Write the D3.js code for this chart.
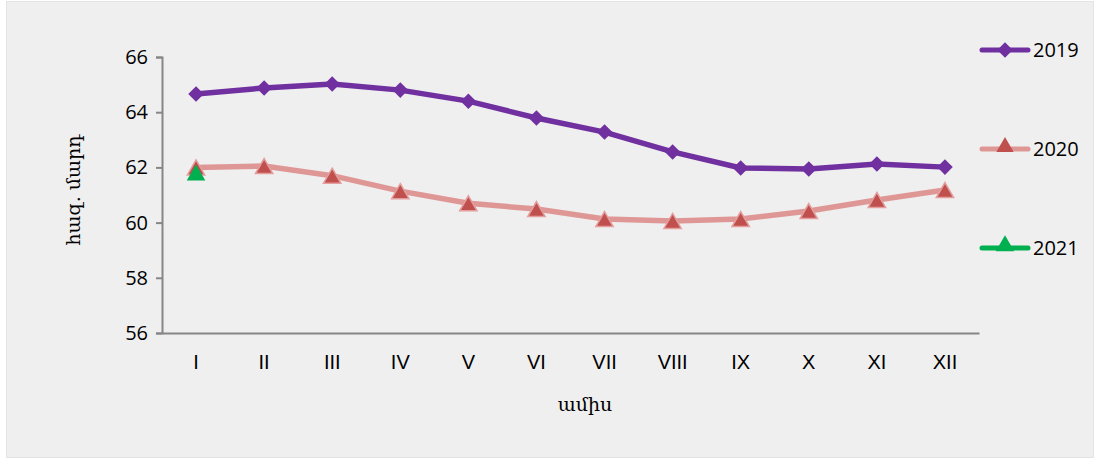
<!DOCTYPE html>
<html>
<head>
<meta charset="utf-8">
<script src="https://cdn.jsdelivr.net/npm/d3@7"></script>
<style>
body { margin: 0; background: #fff; }
</style>
</head>
<body>
<div id="chart"></div>
<script>
var width = 1098, height = 459;

// data
var months = ['I', 'II', 'III', 'IV', 'V', 'VI', 'VII', 'VIII', 'IX', 'X', 'XI', 'XII'];
var y2019 = [64.66, 64.88, 65.02, 64.8, 64.4, 63.79, 63.28, 62.56, 61.98, 61.94, 62.12, 62.01];
var y2020 = [62.0, 62.05, 61.7, 61.14, 60.7, 60.49, 60.13, 60.06, 60.13, 60.42, 60.82, 61.18];
var y2021 = [61.81];
var yTicks = [56, 58, 60, 62, 64, 66];

var svg = d3.select('#chart').append('svg')
    .attr('width', width)
    .attr('height', height);

svg.append('rect')
    .attr('x', 6.5).attr('y', 1.5)
    .attr('width', 1087).attr('height', 456)
    .attr('fill', '#efefef')
    .attr('stroke', '#e4e4e4');

var x = d3.scaleBand().domain(months).range([162, 979]);
var y = d3.scaleLinear().domain([56, 66]).range([333, 57]);
var cx = function(d, i){ return x(months[i]) + x.bandwidth() / 2 };

// y axis
var yAxis = svg.append('g')
    .attr('transform', 'translate(162,0)')
    .call(d3.axisLeft(y).tickValues(yTicks).tickSize(6).tickPadding(8));
yAxis.select('.domain').attr('stroke', '#868686').attr('stroke-width', 2);
yAxis.selectAll('.tick line').attr('stroke', '#868686').attr('stroke-width', 2);
yAxis.selectAll('text')
    .attr('font-family', 'Open Sans, sans-serif')
    .attr('font-size', 20).attr('fill', '#000');

// x axis
var xAxis = svg.append('g')
    .attr('transform', 'translate(0,333)')
    .call(d3.axisBottom(x).tickSize(0).tickPadding(22));
xAxis.select('.domain').attr('stroke', '#868686').attr('stroke-width', 2);
xAxis.selectAll('text')
    .attr('font-family', 'Liberation Sans Narrow, Liberation Sans, sans-serif')
    .attr('font-size', 20).attr('fill', '#000');

// axis titles
svg.append('text')
    .attr('x', 585).attr('y', 411)
    .attr('text-anchor', 'middle')
    .attr('font-family', 'DejaVu Serif, serif')
    .attr('font-size', 19)
    .text('ամիս');

svg.append('text')
    .attr('transform', 'translate(80,190) rotate(-90)')
    .attr('text-anchor', 'middle')
    .attr('font-family', 'DejaVu Serif, serif')
    .attr('font-size', 19)
    .text('հազ. մարդ');

var line = d3.line().x(cx).y(function(d){ return y(d) });

var diamond = d3.symbol().type(d3.symbolSquare).size(121);
var tri = d3.symbol().type(d3.symbolTriangle).size(130);
var triBig = d3.symbol().type(d3.symbolTriangle).size(150);

// 2020
svg.append('path')
    .attr('d', line(y2020))
    .attr('fill', 'none')
    .attr('stroke', '#df9796')
    .attr('stroke-width', 5.5);
svg.selectAll('.m2020').data(y2020).enter().append('path')
    .attr('transform', function(d, i){ return 'translate(' + cx(d, i) + ',' + (y(d) + 2.5) + ')' })
    .attr('d', tri)
    .attr('fill', '#c0504d')
    .attr('stroke', '#e39e9d')
    .attr('stroke-width', 1.5);

// 2019
svg.append('path')
    .attr('d', line(y2019))
    .attr('fill', 'none')
    .attr('stroke', '#7030a0')
    .attr('stroke-width', 5.5);
svg.selectAll('.m2019').data(y2019).enter().append('path')
    .attr('transform', function(d, i){ return 'translate(' + cx(d, i) + ',' + y(d) + ') rotate(45)' })
    .attr('d', diamond)
    .attr('fill', '#7030a0');

// 2021
svg.selectAll('.m2021').data(y2021).enter().append('path')
    .attr('transform', function(d, i){ return 'translate(' + cx(d, i) + ',' + (y(d) + 2.5) + ')' })
    .attr('d', triBig)
    .attr('fill', '#00b050');

// legend
var legend = [
    {name: '2019', color: '#7030a0', marker: diamond, fill: '#7030a0', y: 50, rot: 45},
    {name: '2020', color: '#df9796', marker: tri, fill: '#c0504d', y: 149, rot: 0},
    {name: '2021', color: '#00b050', marker: triBig, fill: '#00b050', y: 248, rot: 0}
];
var lg = svg.selectAll('.lg').data(legend).enter().append('g')
    .attr('transform', function(d){ return 'translate(0,' + d.y + ')' });
lg.append('line')
    .attr('x1', 982).attr('x2', 1028)
    .attr('stroke', function(d){ return d.color })
    .attr('stroke-width', 5)
    .attr('stroke-linecap', 'round');
lg.append('path')
    .attr('transform', function(d){ return 'translate(1005,' + (d.rot ? 0 : -2) + ') rotate(' + d.rot + ')' })
    .attr('d', function(d){ return d.marker() })
    .attr('fill', function(d){ return d.fill });
lg.append('text')
    .attr('x', 1033).attr('y', 7)
    .attr('font-family', 'Open Sans, sans-serif')
    .attr('font-size', 20)
    .text(function(d){ return d.name });
</script>
</body>
</html>
